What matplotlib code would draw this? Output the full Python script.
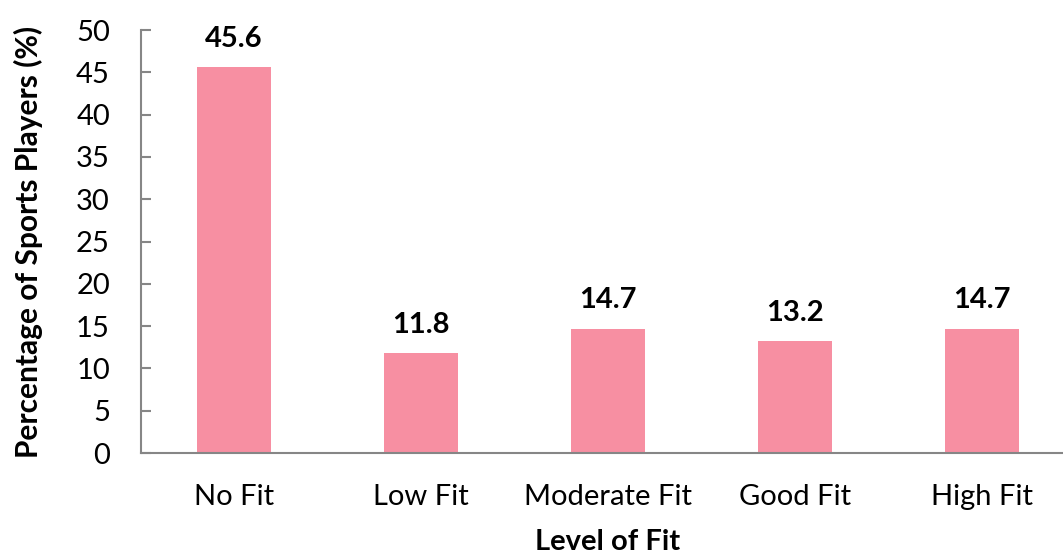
import matplotlib
matplotlib.use("Agg")
from matplotlib import pyplot as plt

# data
categories = ["No Fit", "Low Fit", "Moderate Fit", "Good Fit", "High Fit"]
percentages = [45.6, 11.8, 14.7, 13.2, 14.7]
y_ticks = [0, 5, 10, 15, 20, 25, 30, 35, 40, 45, 50]

plt.rcParams['font.family'] = ['Lato', 'DejaVu Sans']

fig = plt.figure(figsize=(10.63, 5.59), dpi=100)
# the plot area runs slightly past the right edge, as in the reference
ax = fig.add_axes([0.1322, 0.1896, 0.8796, 0.7567])

x = range(len(categories))
ax.bar(x, percentages, width=0.4, color='#F78FA2', zorder=2)

for xi, val in zip(x, percentages):
    ax.annotate("%.1f" % val, (xi, val), xytext=(0, 11), textcoords='offset points',
                ha='center', va='bottom', fontsize=21, fontweight='bold')

ax.set_xlim(-0.5, 4.5)
ax.set_ylim(0, 50)
ax.set_yticks(y_ticks)
ax.set_xticks(list(x))
ax.set_xticklabels(categories)

for side in ['top', 'right']:
    ax.spines[side].set_visible(False)
for side in ['left', 'bottom']:
    ax.spines[side].set_color('#868686')
    ax.spines[side].set_linewidth(1.5)

ax.tick_params(axis='y', direction='in', length=7.5, width=1.5, color='#868686',
               labelsize=21, pad=22)
ax.tick_params(axis='x', length=0, labelsize=21, pad=22)

ax.set_xlabel("Level of Fit", fontsize=21, fontweight='bold', labelpad=14)
ax.set_ylabel("Percentage of Sports Players (%)", fontsize=21.5, fontweight='bold', labelpad=24)

fig.savefig("out.png", dpi=100)
plt.close()
